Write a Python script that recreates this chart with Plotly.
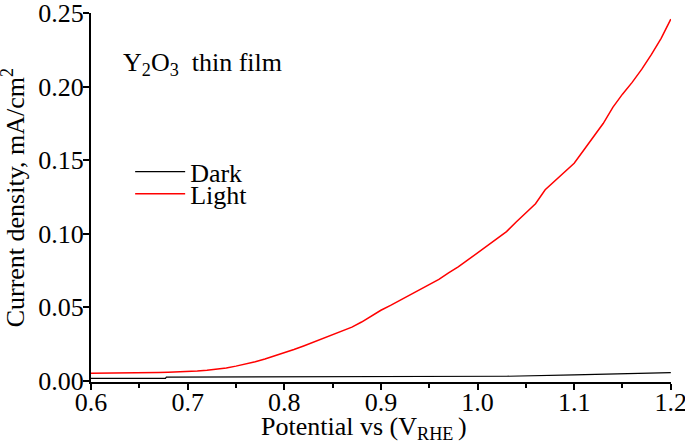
"""Linear sweep voltammetry of a Y2O3 thin film, dark vs light."""

import plotly.graph_objects as go

# potential (V vs RHE) for the light curve
light_potential = [
    0.60, 0.61, 0.62, 0.63, 0.64, 0.65, 0.66, 0.67, 0.68, 0.69,
    0.70, 0.71, 0.72, 0.73, 0.74, 0.75, 0.76, 0.77, 0.78, 0.79,
    0.80, 0.81, 0.82, 0.83, 0.84, 0.85, 0.86, 0.87, 0.88, 0.89,
    0.90, 0.91, 0.92, 0.93, 0.94, 0.95, 0.96, 0.97, 0.98, 0.99,
    1.00, 1.01, 1.02, 1.03, 1.04, 1.05, 1.06, 1.07, 1.08, 1.09,
    1.10, 1.11, 1.12, 1.13, 1.14, 1.15, 1.16, 1.17, 1.18, 1.19,
    1.20,
]
# current density (mA/cm2) under illumination
light_current = [
    0.0052, 0.0052, 0.0051, 0.0051, 0.0051, 0.0052, 0.0054, 0.0056, 0.0058, 0.0060,
    0.0063, 0.0067, 0.0072, 0.0079, 0.0088, 0.0100, 0.0113, 0.0130, 0.0148, 0.0168,
    0.0190, 0.0213, 0.0237, 0.0263, 0.0290, 0.0316, 0.0340, 0.0365, 0.0400, 0.0440,
    0.0480, 0.0513, 0.0548, 0.0585, 0.0618, 0.0650, 0.0690, 0.0735, 0.0775, 0.0822,
    0.0870, 0.0915, 0.0968, 0.1015, 0.1080, 0.1140, 0.1205, 0.1300, 0.1360, 0.1420,
    0.1480, 0.1570, 0.1660, 0.1750, 0.1860, 0.1950, 0.2030, 0.2120, 0.2220, 0.2330,
    0.2460,
]

# dark curve (nearly flat, small steps)
dark_potential = [0.60, 0.677, 0.678, 0.80, 1.00, 1.03, 1.10, 1.15, 1.20]
dark_current = [0.0016, 0.0016, 0.0025, 0.0027, 0.0029, 0.0031, 0.0041, 0.0048, 0.0056]

x_ticks = [0.6, 0.7, 0.8, 0.9, 1.0, 1.1, 1.2]
y_ticks = [0.00, 0.05, 0.10, 0.15, 0.20, 0.25]

FONT = "Liberation Serif, Times New Roman, serif"

fig = go.Figure()

fig.add_trace(
    go.Scatter(
        x=dark_potential,
        y=dark_current,
        mode="lines",
        name="Dark",
        line=dict(color="black", width=1.2),
        legend="legend",
    )
)
fig.add_trace(
    go.Scatter(
        x=light_potential,
        y=light_current,
        mode="lines",
        name="Light",
        line=dict(color="#ff0000", width=1.5),
        legend="legend2",
    )
)

legend_style = dict(
    font=dict(family=FONT, size=26, color="black"),
    bgcolor="rgba(0,0,0,0)",
    borderwidth=0,
    itemwidth=50,
    xanchor="left",
    yanchor="middle",
)

axis_style = dict(
    ticks="outside",
    ticklen=6,
    tickwidth=2,
    tickcolor="black",
    showline=True,
    linecolor="black",
    linewidth=2,
    showgrid=False,
    zeroline=False,
    automargin=False,
    ticklabeloverflow="allow",
    tickfont=dict(size=26),
)

fig.update_layout(
    width=685,
    height=447,
    margin=dict(l=91, r=14, t=12.5, b=65.3),
    paper_bgcolor="white",
    plot_bgcolor="white",
    font=dict(family=FONT, size=26, color="black"),
    showlegend=True,
    legend=dict(x=0.0675, y=0.57, **legend_style),
    legend2=dict(x=0.0675, y=0.51, **legend_style),
    xaxis=dict(
        range=[0.6, 1.2002],
        tickvals=x_ticks,
        ticktext=[f"{v:.1f}" for v in x_ticks],
        minor=dict(dtick=0.05, ticks="outside", ticklen=4, tickwidth=2, tickcolor="black"),
        ticklabelstandoff=-10,
        **axis_style,
    ),
    yaxis=dict(
        range=[-0.0008, 0.2502],
        tickvals=y_ticks,
        ticktext=[f"{v:.2f}" for v in y_ticks],
        ticklabelstandoff=-6,
        **axis_style,
    ),
    annotations=[
        dict(
            text="Y<sub>2</sub>O<sub>3</sub>  thin film",
            xref="paper",
            yref="paper",
            x=0.051,
            y=0.862,
            xanchor="left",
            yanchor="middle",
            showarrow=False,
        ),
        # axis titles
        dict(
            text="Potential vs (V<sub>RHE </sub>)",
            xref="paper",
            yref="paper",
            x=0.471,
            y=-0.126,
            xanchor="center",
            yanchor="middle",
            showarrow=False,
        ),
        dict(
            text="Current density, mA/cm<sup>2</sup>",
            xref="paper",
            yref="paper",
            x=-0.133,
            y=0.5,
            textangle=-90,
            xanchor="center",
            yanchor="middle",
            showarrow=False,
        ),
    ],
)

fig.write_html(
    "out.html",
    config={"displayModeBar": False},
    post_script="document.body.style.margin = '0';",
)
